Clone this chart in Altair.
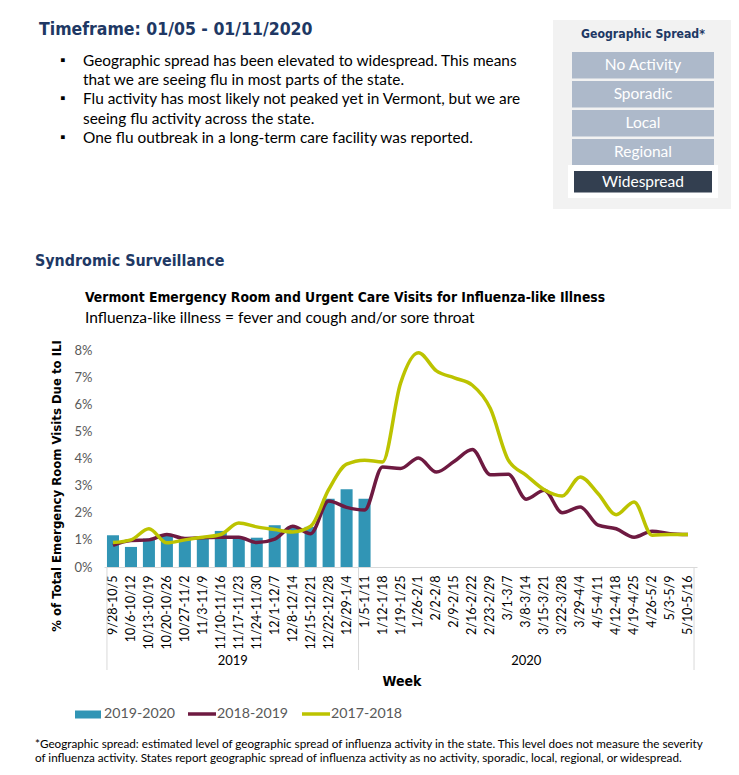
import altair as alt
import pandas as pd

# ---------------- data ----------------
weeks = ["9/28-10/5", "10/6-10/12", "10/13-10/19", "10/20-10/26", "10/27-11/2",
         "11/3-11/9", "11/10-11/16", "11/17-11/23", "11/24-11/30", "12/1-12/7",
         "12/8-12/14", "12/15-12/21", "12/22-12/28", "12/29-1/4",
         "1/5-1/11", "1/12-1/18", "1/19-1/25", "1/26-2/1", "2/2-2/8", "2/9-2/15",
         "2/16-2/22", "2/23-2/29", "3/1-3/7", "3/8-3/14", "3/15-3/21", "3/22-3/28",
         "3/29-4/4", "4/5-4/11", "4/12-4/18", "4/19-4/25", "4/26-5/2", "5/3-5/9",
         "5/10-5/16"]
bars_1920 = [1.17, 0.74, 1.05, 1.15, 1.05, 1.10, 1.33, 1.05, 1.08, 1.54, 1.48,
             1.48, 2.52, 2.87, 2.52]
line_1819 = [0.80, 0.98, 1.00, 1.20, 1.05, 1.08, 1.10, 1.10, 0.90, 1.03, 1.50,
             1.23, 2.43, 2.20, 2.10, 3.69, 3.63, 4.02, 3.50, 3.90, 4.33, 3.40,
             3.42, 2.50, 2.83, 2.00, 2.21, 1.54, 1.41, 1.10, 1.32, 1.23, 1.20]
line_1718 = [0.90, 1.00, 1.41, 0.89, 1.00, 1.10, 1.20, 1.62, 1.48, 1.38, 1.29,
             1.50, 2.85, 3.79, 3.94, 3.87, 6.77, 7.90, 7.23, 6.97, 6.70, 5.84,
             3.94, 3.38, 2.85, 2.62, 3.32, 2.70, 1.93, 2.40, 1.17, 1.20, 1.20]
y_ticks = [0, 1, 2, 3, 4, 5, 6, 7, 8]
series_names = ["2019-2020", "2018-2019", "2017-2018"]
series_colors = ["#3195B5", "#6E1A41", "#BCC300"]
spread_levels = ["No Activity", "Sporadic", "Local", "Regional", "Widespread"]
bullets = [
    "Geographic spread has been elevated to widespread. This means",
    "that we are seeing flu in most parts of the state.",
    "Flu activity has most likely not peaked yet in Vermont, but we are",
    "seeing flu activity across the state.",
    "One flu outbreak in a long-term care facility was reported.",
]
bullet_marks = [True, False, True, False, True]
footnote = [
    "*Geographic spread: estimated level of geographic spread of influenza activity in the state. This level does not measure the severity",
    "of influenza activity.  States report geographic spread of influenza activity as no activity, sporadic, local, regional, or widespread.",
]

# ---------------- layout ----------------
X0, Y0 = 104, 350          # page position of the plot origin
W, H = 593, 217
TOTAL_W, TOTAL_H = 723, 756
NAVY = "#203864"
HEAD = "Liberation Sans Narrow, DejaVu Sans Condensed, Roboto Condensed, Roboto"
BODY = "Lato, Open Sans, sans-serif"

def px(x):
    return x - X0

def py(y):
    return y - Y0

def txt(s, x, y, size, color="black", weight="normal", font=BODY, align="left", angle=0):
    return alt.Chart(pd.DataFrame({"t": [s]})).mark_text(
        align=align, baseline="middle", fontSize=size, fontWeight=weight,
        font=font, color=color, angle=angle
    ).encode(x=alt.value(px(x)), y=alt.value(py(y)), text="t:N")

def box(x1, y1, x2, y2, color):
    return alt.Chart(pd.DataFrame({"a": [0]})).mark_rect(color=color).encode(
        x=alt.value(px(x1)), x2=alt.value(px(x2)), y=alt.value(py(y1)), y2=alt.value(py(y2)))

def hline(x1, x2, y, color, width):
    return alt.Chart(pd.DataFrame({"a": [0]})).mark_rule(color=color, strokeWidth=width).encode(
        x=alt.value(px(x1)), x2=alt.value(px(x2)), y=alt.value(py(y)))

layers = []

# header
layers.append(txt("Timeframe: 01/05 - 01/11/2020", 39, 30, 17.5, NAVY, "bold", HEAD))
ys = [60.7, 80, 99.3, 118.5, 137.5]
for s, b, yy in zip(bullets, bullet_marks, ys):
    if b:
        layers.append(txt("▪", 60, yy, 14, "black"))
    layers.append(txt(s, 83, yy, 15.4, "black"))

# geographic spread panel
layers.append(box(553, 20, 739, 209, "#F2F2F2"))
layers.append(txt("Geographic Spread*", 643, 34, 12.2, NAVY, "bold", HEAD, align="center"))
rows = [(52, 78.5), (81, 107.5), (110, 136.5), (139, 165)]
for name, (a, b) in zip(spread_levels[:4], rows):
    layers.append(box(572, a, 714, b, "#ADB9CA"))
    layers.append(txt(name, 643, (a + b) / 2, 15.5, "white", align="center"))
layers.append(box(568, 165, 718, 198, "white"))
layers.append(box(574, 171, 712, 192.5, "#333F50"))
layers.append(txt(spread_levels[4], 643, 181.5, 15.5, "white", align="center"))

# section & chart titles
layers.append(txt("Syndromic Surveillance", 35, 260.5, 15.9, NAVY, "bold", HEAD))
layers.append(txt("Vermont Emergency Room and Urgent Care Visits for Influenza-like Illness",
                  85, 297.5, 13.8, "black", "bold", HEAD))
layers.append(txt("Influenza-like illness = fever and cough and/or sore throat",
                  85, 317.5, 15.5, "black"))

# ---------------- chart ----------------
xaxis = alt.Axis(labelAngle=270, labelFontSize=12.5, labelFont=BODY,
                 labelColor="black", ticks=False, domainColor="#D9D9D9",
                 labelPadding=8, labelOverlap=False)
xscale = alt.Scale(domain=weeks, paddingInner=0.33, paddingOuter=0.165)
yaxis = alt.Axis(values=y_ticks, tickCount=9, labelExpr="datum.value + '%'", grid=False,
                 domain=False, ticks=False, labelFontSize=13, labelFont=BODY,
                 labelColor="#595959", labelPadding=12, labelOverlap=False)
yscale = alt.Scale(domain=[0, 8], nice=False)

bar_df = pd.DataFrame({"week": weeks[:len(bars_1920)], "value": bars_1920})
bars = alt.Chart(bar_df).mark_bar(color=series_colors[0]).encode(
    x=alt.X("week:N", sort=weeks, title=None, scale=xscale, axis=xaxis),
    y=alt.Y("value:Q", scale=yscale, title=None, axis=yaxis),
)

line_df = pd.concat([
    pd.DataFrame({"week": weeks, "value": line_1819, "season": series_names[1]}),
    pd.DataFrame({"week": weeks, "value": line_1718, "season": series_names[2]}),
])
lines = alt.Chart(line_df).mark_line(strokeWidth=3.5, interpolate="monotone").encode(
    x=alt.X("week:N", sort=weeks, title=None, scale=xscale, axis=xaxis),
    y=alt.Y("value:Q", scale=yscale, title=None, axis=yaxis),
    color=alt.Color("season:N", scale=alt.Scale(domain=series_names[1:], range=series_colors[1:]),
                    legend=None),
    order=alt.Order("season:N", sort="descending"),
)

# year grouping
start_df = pd.DataFrame({"week": [weeks[0], weeks[14]]})
rules_start = alt.Chart(start_df).mark_rule(color="#D9D9D9", strokeWidth=1).encode(
    x=alt.X("week:N", sort=weeks, bandPosition=0), y=alt.value(H), y2=alt.value(py(670)))
end_df = pd.DataFrame({"week": [weeks[-1]]})
rules_end = alt.Chart(end_df).mark_rule(color="#D9D9D9", strokeWidth=1).encode(
    x=alt.X("week:N", sort=weeks, bandPosition=1), y=alt.value(H), y2=alt.value(py(670)))
y19 = alt.Chart(pd.DataFrame({"week": [weeks[7]], "t": ["2019"]})).mark_text(
    fontSize=13, font=BODY, color="black", baseline="middle").encode(
    x=alt.X("week:N", sort=weeks, bandPosition=0), y=alt.value(py(661)), text="t:N")
y20 = alt.Chart(pd.DataFrame({"week": [weeks[23]], "t": ["2020"]})).mark_text(
    fontSize=13, font=BODY, color="black", baseline="middle").encode(
    x=alt.X("week:N", sort=weeks, bandPosition=0.5), y=alt.value(py(661)), text="t:N")

layers += [bars, lines, rules_start, rules_end, y19, y20]

# axis titles
layers.append(txt("% of Total Emergency Room Visits Due to ILI", 57, 486, 13, "black",
                  "bold", HEAD, align="center", angle=270))
layers.append(txt("Week", 402, 682, 14, "black", "bold", HEAD, align="center"))

# legend
layers.append(box(75, 710.5, 101, 718.5, series_colors[0]))
layers.append(txt(series_names[0], 104, 714, 14.2, "#595959"))
layers.append(hline(188, 216, 714, series_colors[1], 3.5))
layers.append(txt(series_names[1], 217, 714, 14.2, "#595959"))
layers.append(hline(302, 330, 714, series_colors[2], 3.5))
layers.append(txt(series_names[2], 331, 714, 14.2, "#595959"))

# footnote
layers.append(txt(footnote[0], 35, 743.5, 11.7, "black"))
layers.append(txt(footnote[1], 35, 758, 11.7, "black"))

chart = alt.layer(*layers).properties(
    width=W, height=H,
    padding={"left": X0 - 8, "top": Y0 - 8, "right": TOTAL_W - (X0 - 8) - W,
             "bottom": TOTAL_H - (Y0 - 8) - H},
    autosize=alt.AutoSizeParams(type="none"),
    background="white",
).configure_view(strokeWidth=0)

chart.save("out.html", embed_options={"renderer": "svg", "actions": False})
